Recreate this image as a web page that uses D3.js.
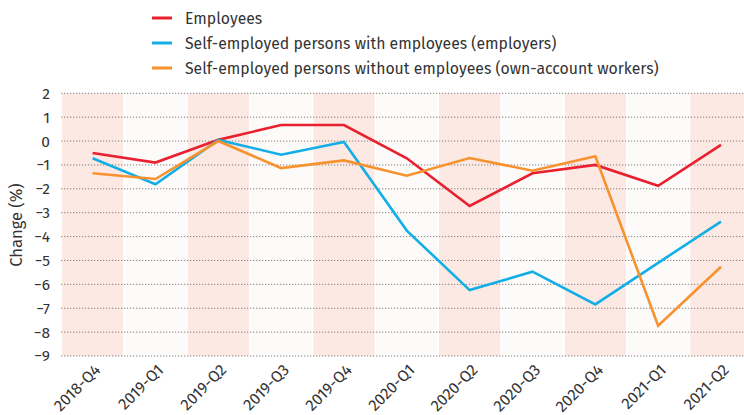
<!DOCTYPE html>
<html>
<head>
<meta charset="utf-8">
<script src="https://cdn.jsdelivr.net/npm/d3@7"></script>
<style>
  html, body { margin: 0; padding: 0; background: #ffffff; }
  svg { display: block; }
  text { font-family: "Fira Sans", "Open Sans", "Noto Sans", sans-serif; fill: #333; }
</style>
</head>
<body>
<svg id="chart" width="744" height="415"></svg>
<script>
// Quarterly change in employment by professional status (%)
const quarters = ["2018-Q4", "2019-Q1", "2019-Q2", "2019-Q3", "2019-Q4", "2020-Q1",
                  "2020-Q2", "2020-Q3", "2020-Q4", "2021-Q1", "2021-Q2"];
const employees   = [-0.5, -0.9, 0.05, 0.67, 0.67, -0.72, -2.72, -1.35, -1.0, -1.87, -0.16];
const employers   = [-0.72, -1.81, 0.05, -0.57, -0.04, -3.75, -6.24, -5.47, -6.84, -5.1, -3.37];
const ownAccount  = [-1.35, -1.59, 0.0, -1.13, -0.81, -1.45, -0.71, -1.24, -0.64, -7.73, -5.26];
const seriesNames = ["Employees",
                     "Self-employed persons with employees (employers)",
                     "Self-employed persons without employees (own-account workers)"];
const seriesColors = ["#e8202f", "#14aee6", "#f7922f"];
const yTicks = [2, 1, 0, -1, -2, -3, -4, -5, -6, -7, -8, -9];

const series = [employees, employers, ownAccount].map((vals, i) => ({
  name: seriesNames[i], color: seriesColors[i], values: vals
}));

const svg = d3.select("#chart");
const plotLeft = 61.2, plotRight = 752.4, plotTop = 93.3, plotBottom = 356;

const x = d3.scaleBand().domain(quarters).range([plotLeft, plotRight])
  .paddingInner(0.025).paddingOuter(0.0125);
const y = d3.scaleLinear().domain([-9, 2]).range([plotBottom, plotTop]);

// alternating column shading
svg.append("g").selectAll("rect").data(quarters).join("rect")
  .attr("x", d => x(d))
  .attr("y", plotTop)
  .attr("width", x.bandwidth())
  .attr("height", plotBottom - plotTop)
  .attr("fill", (d, i) => i % 2 === 0 ? "#fce9e3" : "#fdfbf9");

// dotted horizontal gridlines
svg.append("g").selectAll("line").data(yTicks).join("line")
  .attr("x1", plotLeft).attr("x2", 744)
  .attr("y1", d => y(d)).attr("y2", d => y(d))
  .attr("stroke", "#666")
  .attr("stroke-width", 1)
  .attr("stroke-dasharray", "1,2");

// y axis labels
const yAxis = d3.axisLeft(y).tickValues(yTicks).tickSize(0).tickPadding(0)
  .tickFormat(d3.format("d"));
const gy = svg.append("g").attr("transform", "translate(50,0)").call(yAxis);
gy.select(".domain").remove();
gy.selectAll("text").style("font-size", "15.5px").attr("fill", "#333")
  .style("font-family", "'Fira Sans', 'Open Sans', sans-serif");

svg.append("text")
  .attr("transform", "translate(22,225) rotate(-90)")
  .attr("text-anchor", "middle")
  .style("font-size", "16.5px")
  .text("Change (%)");

// x axis labels, rotated
const xAxis = d3.axisBottom(x).tickSize(0).tickPadding(0);
const gx = svg.append("g").attr("transform", `translate(0,${plotBottom + 6})`).call(xAxis);
gx.select(".domain").remove();
gx.selectAll("text")
  .style("font-size", "16px").attr("fill", "#333")
  .style("font-family", "'Fira Sans', 'Open Sans', sans-serif")
  .attr("text-anchor", "end")
  .attr("dy", "0.35em")
  .attr("transform", "translate(5,5) rotate(-45)");

// lines
const line = d3.line()
  .x((d, i) => x(quarters[i]) + x.bandwidth() / 2)
  .y(d => y(d));

svg.append("g").selectAll("path").data(series).join("path")
  .attr("d", d => line(d.values))
  .attr("fill", "none")
  .attr("stroke", d => d.color)
  .attr("stroke-width", 2.6)
  .attr("stroke-linejoin", "miter");

// legend
const legend = svg.append("g").selectAll("g").data(series).join("g")
  .attr("transform", (d, i) => `translate(152,${18 + i * 25})`);
legend.append("line")
  .attr("x1", 0).attr("x2", 20)
  .attr("stroke", d => d.color).attr("stroke-width", 3);
legend.append("text")
  .attr("x", 33).attr("dy", "0.35em")
  .style("font-size", "15.8px")
  .text(d => d.name);
</script>
</body>
</html>
